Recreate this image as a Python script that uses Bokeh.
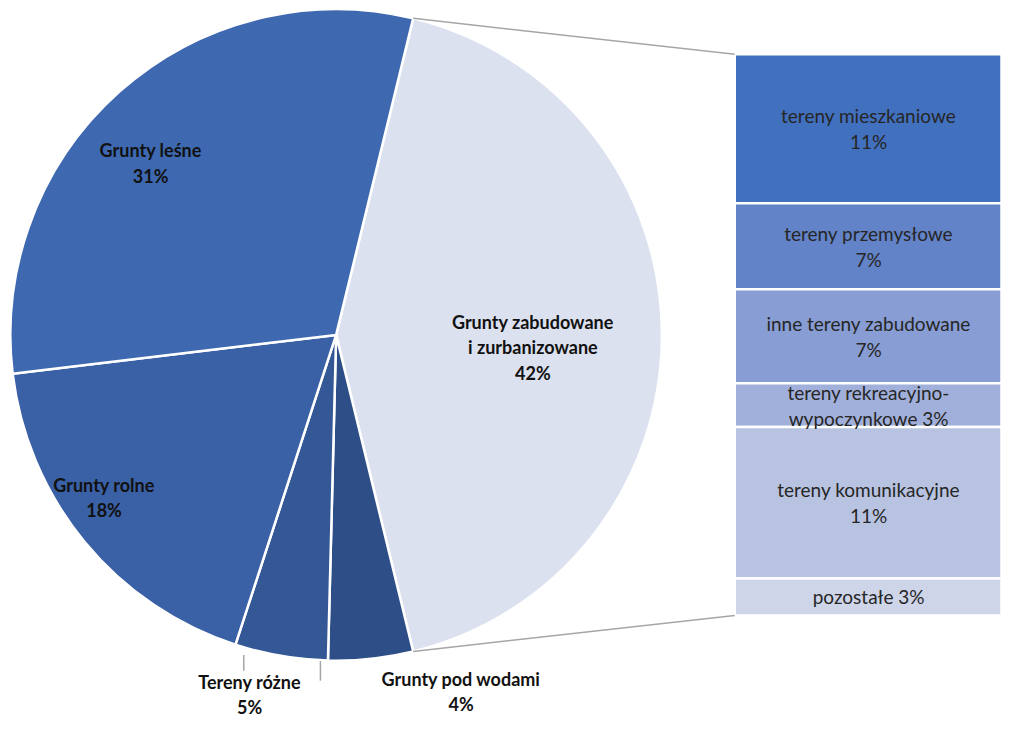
import math
from bokeh.plotting import figure
from bokeh.models import Range1d, ColumnDataSource
from bokeh.embed import file_html
from bokeh.resources import INLINE
from bokeh.core.properties import value

# ---- data ----
pie_labels = ["Grunty zabudowane\ni zurbanizowane", "Grunty pod wodami", "Tereny różne", "Grunty rolne", "Grunty leśne"]
pie_values = [42.4, 4.2, 4.6, 18.1, 30.7]
pie_pct = ["42%", "4%", "5%", "18%", "31%"]
pie_colors = ["#DCE1EF", "#2D4E87", "#345796", "#3A60A6", "#3E69B1"]

bar_labels = ["tereny mieszkaniowe", "tereny przemysłowe", "inne tereny zabudowane",
              "tereny rekreacyjno-\nwypoczynkowe", "tereny komunikacyjne", "pozostałe"]
bar_values = [10.9, 6.3, 6.9, 3.2, 11.1, 2.7]
bar_pct = ["11%", "7%", "7%", "3%", "11%", "3%"]
bar_colors = ["#4170BF", "#6283C7", "#879DD3", "#A1B0DA", "#B8C3E1", "#CED5E9"]

# ---- layout constants (reference pixel space, y measured downward) ----
H = 733.0
W_FIG, H_FIG = 1001, 717
scale = W_FIG / 1017.0
yspan = H_FIG / scale
ypad = (H - yspan) / 2.0

CX, CY, R = 341.0, 342.0, 331.0
BAR_L, BAR_R, BAR_TOP, BAR_BOT = 746.0, 1017.0, 57.0, 627.0
FONT = "Lato"

# label placement: (radius fraction, angle offset deg) per pie slice
lab_polar = [(0.605, 3.6), (1.16, -13.2), (1.135, 3.8), (0.87, 4.4), (0.776, -5.6)]
sep_bar = ["\n", "\n", "\n", " ", "\n", " "]
sep_pie = ["\n", "\n", "\n", "\n", "\n"]


def fy(py):
    return H - py


p = figure(width=W_FIG, height=H_FIG, output_backend="svg", toolbar_location=None,
           x_range=Range1d(0, 1017), y_range=Range1d(ypad, H - ypad),
           min_border=0, outline_line_color=None)
p.axis.visible = False
p.grid.visible = False
p.background_fill_color = "white"

# ---- pie ----
total = sum(pie_values)
degs = [v / total * 360.0 for v in pie_values]
theta = 90.0 - degs[0] / 2.0  # main "other" slice centred at 3 o'clock
starts, ends, t1s, t2s = [], [], [], []
for d in degs:
    t1, t2 = theta, theta + d
    t1s.append(t1)
    t2s.append(t2)
    starts.append(math.radians(90.0 - t2))
    ends.append(math.radians(90.0 - t1))
    theta = t2

src = ColumnDataSource(dict(start=starts, end=ends, color=pie_colors))
p.wedge(x=CX, y=fy(CY), radius=R, start_angle="start", end_angle="end", direction="anticlock",
        fill_color="color", line_color="white", line_width=2.5, source=src)

# pie labels
lx, ly, lt = [], [], []
for i in range(len(pie_values)):
    frac, off = lab_polar[i]
    mid = (t1s[i] + t2s[i]) / 2.0 + off
    rr = frac * R
    x = CX + rr * math.sin(math.radians(mid))
    y = CY - rr * math.cos(math.radians(mid))
    lx.append(x)
    ly.append(fy(y))
    lt.append(pie_labels[i] + sep_pie[i] + pie_pct[i])
p.text(x=lx, y=ly, text=lt, text_align="center", text_baseline="middle",
       text_font=value(FONT), text_font_style="bold", text_font_size="18px",
       text_color="#111111", text_line_height=1.16)

# leader lines for outer labels (slices 1 and 2)
for i, dx, dy0, dy1 in [(2, -6, -40, -24), (1, -143, -31, -11)]:
    x = lx[i] + dx
    p.line(x=[x, x], y=[ly[i] - dy0, ly[i] - dy1], line_color="#A6A6A6", line_width=1.5)

# ---- bar of pie ----
btot = sum(bar_values)
k = (BAR_BOT - BAR_TOP) / btot
tops, bots = [], []
cur = BAR_TOP
for v in bar_values:
    tops.append(fy(cur))
    cur += v * k
    bots.append(fy(cur))
bsrc = ColumnDataSource(dict(top=tops, bottom=bots, color=bar_colors))
p.quad(left=BAR_L, right=BAR_R, top="top", bottom="bottom", fill_color="color",
       line_color="white", line_width=2.5, source=bsrc)

bx = [882.0] * len(bar_values)
by = [(t + b) / 2.0 for t, b in zip(tops, bots)]
bt = [bar_labels[i] + sep_bar[i] + bar_pct[i] for i in range(len(bar_values))]
p.text(x=bx, y=by, text=bt, text_align="center", text_baseline="middle",
       text_font=value(FONT), text_font_size="19px", text_color="#262626",
       text_line_height=1.12)

# connector lines
ta = math.radians(t1s[0])
tb = math.radians(t2s[0])
p.line(x=[CX + R * math.sin(ta), BAR_L], y=[fy(CY - R * math.cos(ta)), tops[0]],
       line_color="#A6A6A6", line_width=1.5)
p.line(x=[CX + R * math.sin(tb), BAR_L], y=[fy(CY - R * math.cos(tb)), bots[-1]],
       line_color="#A6A6A6", line_width=1.5)

open("out.html", "w").write(file_html(p, INLINE))
